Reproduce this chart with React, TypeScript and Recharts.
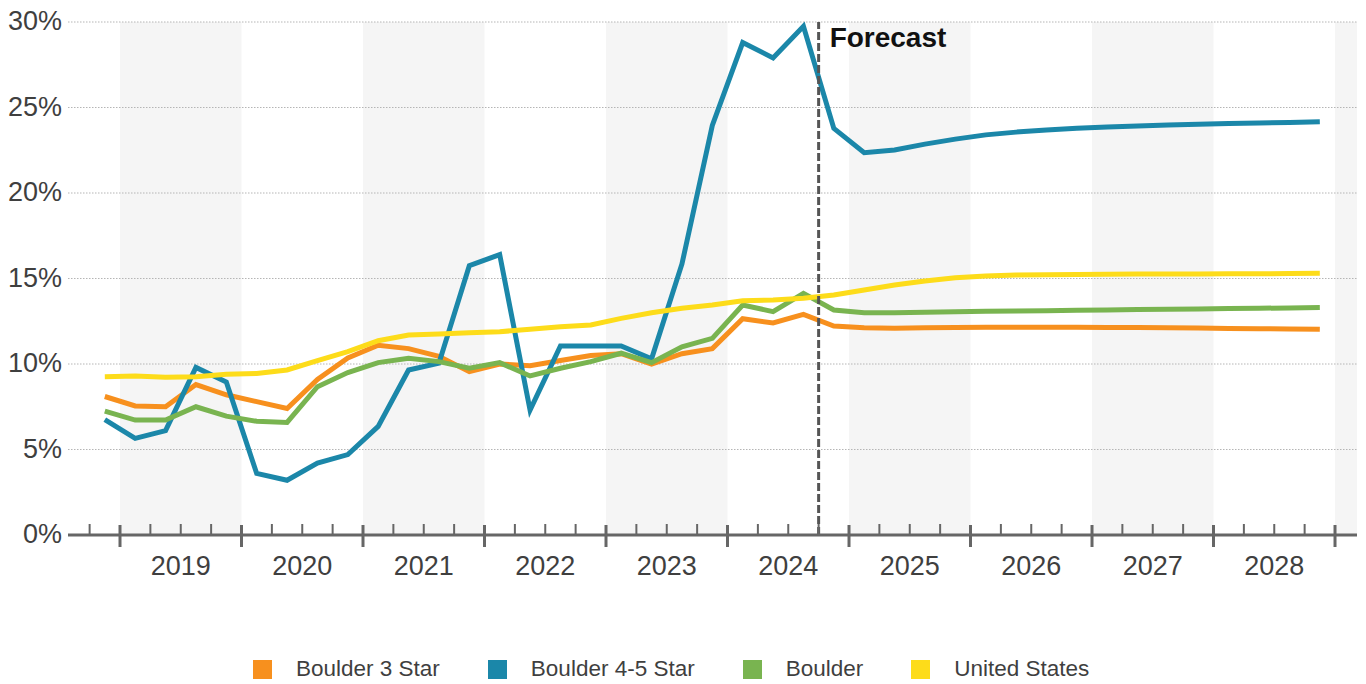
import React from 'react';
import {
  LineChart,
  Line,
  XAxis,
  YAxis,
  ReferenceArea,
  ReferenceLine,
} from 'recharts';

// Quarterly vacancy rates, 2018 Q4 through 2028 Q4 (forecast from 2024 Q4)
const quarters: string[] = [
  '2018 Q4',
  '2019 Q1', '2019 Q2', '2019 Q3', '2019 Q4',
  '2020 Q1', '2020 Q2', '2020 Q3', '2020 Q4',
  '2021 Q1', '2021 Q2', '2021 Q3', '2021 Q4',
  '2022 Q1', '2022 Q2', '2022 Q3', '2022 Q4',
  '2023 Q1', '2023 Q2', '2023 Q3', '2023 Q4',
  '2024 Q1', '2024 Q2', '2024 Q3', '2024 Q4',
  '2025 Q1', '2025 Q2', '2025 Q3', '2025 Q4',
  '2026 Q1', '2026 Q2', '2026 Q3', '2026 Q4',
  '2027 Q1', '2027 Q2', '2027 Q3', '2027 Q4',
  '2028 Q1', '2028 Q2', '2028 Q3', '2028 Q4',
];

const boulder3Star: number[] = [
  8.1, 7.55, 7.5, 8.8, 8.2, 7.8, 7.4, 9.1, 10.35, 11.1, 10.9, 10.45,
  9.55, 10.0, 9.9, 10.2, 10.5, 10.6, 10.0, 10.6, 10.9, 12.65, 12.4, 12.9,
  12.22, 12.12, 12.09, 12.12, 12.14, 12.15, 12.15, 12.15, 12.15, 12.14,
  12.13, 12.12, 12.1, 12.08, 12.06, 12.05, 12.03,
];

const boulder45Star: number[] = [
  6.75, 5.65, 6.1, 9.8, 8.95, 3.6, 3.2, 4.2, 4.7, 6.35, 9.65, 10.05,
  15.75, 16.4, 7.3, 11.05, 11.05, 11.05, 10.3, 15.85, 23.95, 28.8, 27.9, 29.75,
  23.78, 22.36, 22.52, 22.86, 23.15, 23.4, 23.56, 23.68, 23.78, 23.86,
  23.92, 23.97, 24.02, 24.06, 24.1, 24.13, 24.17,
];

const boulder: number[] = [
  7.25, 6.72, 6.72, 7.5, 6.95, 6.65, 6.58, 8.67, 9.5, 10.08, 10.33, 10.14,
  9.75, 10.08, 9.3, 9.75, 10.14, 10.63, 10.08, 11.0, 11.5, 13.45, 13.06, 14.13,
  13.16, 13.0, 13.0, 13.03, 13.06, 13.08, 13.1, 13.12, 13.14, 13.16,
  13.18, 13.2, 13.22, 13.24, 13.26, 13.28, 13.3,
];

const unitedStates: number[] = [
  9.26, 9.3, 9.22, 9.26, 9.4, 9.45, 9.65, 10.2, 10.72, 11.36, 11.7, 11.75,
  11.83, 11.89, 12.03, 12.18, 12.28, 12.67, 13.0, 13.26, 13.45, 13.7, 13.74, 13.84,
  14.03, 14.33, 14.62, 14.85, 15.05, 15.15, 15.2, 15.22, 15.24, 15.25,
  15.26, 15.27, 15.27, 15.28, 15.28, 15.29, 15.3,
];

const yearLabels: string[] = ['2019', '2020', '2021', '2022', '2023', '2024', '2025', '2026', '2027', '2028'];
const shadedYears: number[] = [2019, 2021, 2023, 2025, 2027, 2029];
const yTicks: number[] = [0, 5, 10, 15, 20, 25, 30];
const forecastStart = '2024 Q4';

const series = [
  { key: 'boulder3Star', name: 'Boulder 3 Star', values: boulder3Star, color: '#F7901E' },
  { key: 'boulder45Star', name: 'Boulder 4-5 Star', values: boulder45Star, color: '#1B87A9' },
  { key: 'boulder', name: 'Boulder', values: boulder, color: '#79B450' },
  { key: 'unitedStates', name: 'United States', values: unitedStates, color: '#FDDC1A' },
];

// Position of a quarter on a continuous year axis (centre of the quarter)
const quarterCenter = (q: string) => {
  const [y, qq] = q.split(' Q');
  return Number(y) + (Number(qq) - 0.5) / 4;
};
const quarterStart = (q: string) => quarterCenter(q) - 0.125;

const data = quarters.map((q, i) => {
  const row: Record<string, number | string> = { quarter: q, t: quarterCenter(q) };
  series.forEach((s) => {
    row[s.key] = s.values[i];
  });
  return row;
});

const firstYear = Number(yearLabels[0]);
const lastYear = Number(yearLabels[yearLabels.length - 1]);
const X_MIN = firstYear - 0.428;
const X_MAX = lastYear + 1 + 0.181;

// Quarter boundaries used as axis ticks
const xTicks: number[] = [];
for (let y = firstYear - 1; y <= lastYear + 1; y++) {
  for (let q = 0; q < 4; q++) {
    const v = y + q / 4;
    if (v >= X_MIN && v <= lastYear + 1) xTicks.push(v);
  }
}

const FONT = "'Liberation Sans', Arial, Helvetica, sans-serif";
const AXIS_GRAY = '#666666';
const TEXT_GRAY = '#3f3f3f';

const QuarterTick = (props: any) => {
  const { x, y, payload } = props;
  const v: number = payload.value;
  const isYear = Math.abs(v - Math.round(v)) < 1e-6;
  const frac = v - Math.floor(v);
  const yearText = String(Math.floor(v));
  const showLabel = Math.abs(frac - 0.5) < 1e-6 && yearLabels.includes(yearText);
  return (
    <g>
      {isYear ? (
        <line x1={x} x2={x} y1={y - 10} y2={y + 12} stroke={AXIS_GRAY} strokeWidth={3} />
      ) : (
        <line x1={x} x2={x} y1={y - 11} y2={y} stroke={AXIS_GRAY} strokeWidth={2} />
      )}
      {showLabel && (
        <text x={x} y={y + 40} textAnchor="middle" fontSize={27} fontFamily={FONT} fill={TEXT_GRAY}>
          {yearText}
        </text>
      )}
    </g>
  );
};

const PercentTick = (props: any) => {
  const { x, y, payload } = props;
  return (
    <text x={x} y={y + 8} textAnchor="end" fontSize={27} fontFamily={FONT} fill={TEXT_GRAY}>
      {`${payload.value}%`}
    </text>
  );
};

const ForecastLabel = (props: any) => {
  const vb = props.viewBox || {};
  return (
    <text
      x={(vb.x ?? 0) + 11}
      y={(vb.y ?? 0) + 25}
      fontSize={28}
      fontWeight="bold"
      fontFamily={FONT}
      fill="#111111"
    >
      Forecast
    </text>
  );
};

export default function App() {
  return (
    <div
      style={{
        position: 'absolute',
        left: 0,
        top: 0,
        width: 1366,
        height: 684,
        background: '#ffffff',
        fontFamily: FONT,
      }}
    >
      <LineChart
        width={1366}
        height={684}
        data={data}
        margin={{ top: 22, right: 9, bottom: 89, left: 0 }}
      >
        {shadedYears.map((y) => (
          <ReferenceArea
            key={`band-${y}`}
            x1={y}
            x2={Math.min(y + 1, X_MAX)}
            fill="#f5f5f5"
            fillOpacity={1}
            stroke="none"
            ifOverflow="hidden"
          />
        ))}
        {yTicks
          .filter((v) => v > 0)
          .map((v) => (
            <ReferenceLine
              key={`grid-${v}`}
              y={v}
              stroke="#b5b5b5"
              strokeWidth={1}
              strokeDasharray="1.5 1.5"
            />
          ))}
        <XAxis
          dataKey="t"
          type="number"
          domain={[X_MIN, X_MAX]}
          allowDataOverflow
          ticks={xTicks}
          interval={0}
          tick={<QuarterTick />}
          tickLine={false}
          tickSize={0}
          tickMargin={0}
          axisLine={{ stroke: AXIS_GRAY, strokeWidth: 3 }}
          height={60}
        />
        <YAxis
          type="number"
          domain={[0, 30]}
          ticks={yTicks}
          interval={0}
          width={68}
          axisLine={false}
          tickLine={false}
          tickSize={0}
          tickMargin={6}
          tick={<PercentTick />}
        />
        {series.map((s) => (
          <Line
            key={s.key}
            dataKey={s.key}
            name={s.name}
            type="linear"
            stroke={s.color}
            strokeWidth={5}
            dot={false}
            activeDot={false}
            isAnimationActive={false}
          />
        ))}
        <ReferenceLine
          x={quarterStart(forecastStart)}
          stroke="#555555"
          strokeWidth={3}
          strokeDasharray="8 3"
          label={<ForecastLabel />}
        />
      </LineChart>
      <div
        style={{
          position: 'absolute',
          left: 253,
          top: 659,
          height: 20,
          display: 'flex',
          alignItems: 'center',
          fontSize: 22.5,
          color: TEXT_GRAY,
          fontFamily: FONT,
          whiteSpace: 'nowrap',
        }}
      >
        {series.map((s, i) => (
          <div
            key={s.key}
            style={{ display: 'flex', alignItems: 'center', marginLeft: i === 0 ? 0 : 48 }}
          >
            <span style={{ display: 'inline-block', width: 19, height: 19, background: s.color }} />
            <span style={{ marginLeft: 24, lineHeight: '20px' }}>{s.name}</span>
          </div>
        ))}
      </div>
    </div>
  );
}
